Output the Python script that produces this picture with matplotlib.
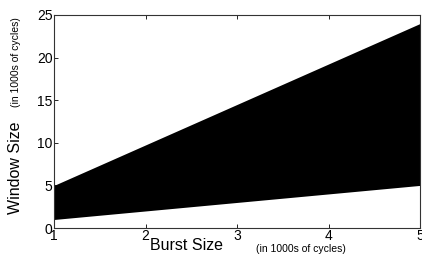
import matplotlib
matplotlib.use("Agg")
import matplotlib.pyplot as plt

# burst size (1000s of cycles) and window bounds (1000s of cycles)
burst = [1, 5]
window_low = [1, 5]
window_high = [5, 24]

plt.rcParams["font.family"] = ["Liberation Sans", "DejaVu Sans"]

fig = plt.figure(figsize=(4.22, 2.56), dpi=100)
ax = fig.add_axes([54 / 422, 1 - 228 / 256, 366 / 422, 213 / 256])

ax.fill_between(burst, window_low, window_high, color="black", linewidth=0)

ax.set_xlim(1, 5)
ax.set_ylim(0, 25)
ax.set_xticks([1, 2, 3, 4, 5])
ax.set_yticks([0, 5, 10, 15, 20, 25])
ax.tick_params(direction="in", length=3, width=0.6, labelsize=10,
               top=True, right=True, pad=1)
for s in ax.spines.values():
    s.set_linewidth(0.8)
    s.set_color("#333333")

fig.text(150 / 422, 1 - 246 / 256, "Burst Size", fontsize=11.5, va="center", ha="left")
fig.text(256 / 422, 1 - 249 / 256, "(in 1000s of cycles)", fontsize=7.5, va="center", ha="left")
fig.text(16 / 422, 1 - 168 / 256, "Window Size", fontsize=11.5, va="center", ha="center",
         rotation=90)
fig.text(16 / 422, 1 - 62 / 256, "(in 1000s of cycles)", fontsize=7.5, va="center", ha="center",
         rotation=90)

fig.savefig("out.png", dpi=100)
